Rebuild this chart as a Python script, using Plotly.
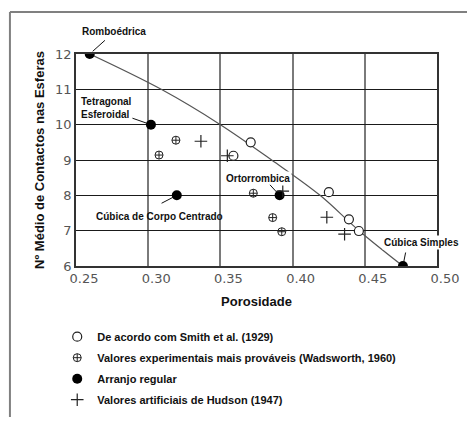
import plotly.graph_objects as go

# Porosity vs. mean number of contacts per sphere
smith_por = [0.359, 0.371, 0.4251, 0.439, 0.4459]
smith_n = [9.12, 9.50, 8.09, 7.32, 6.99]

wads_por = [0.3075, 0.3192, 0.3728, 0.3862, 0.3925]
wads_n = [9.14, 9.56, 8.06, 7.37, 6.97]

regular_names = ["Romboédrica", "Tetragonal<br>Esferoidal", "Cúbica de Corpo Centrado",
                 "Ortorrombica", "Cúbica Simples"]
regular_por = [0.2595, 0.3019, 0.3198, 0.391, 0.4764]
regular_n = [12, 10, 8, 8, 6]

hudson_por = [0.3365, 0.3548, 0.3932, 0.4237, 0.436]
hudson_n = [9.53, 9.12, 8.12, 7.38, 6.90]

curve_por = [0.2595, 0.309, 0.350, 0.3855, 0.419, 0.446, 0.4764]
curve_n = [12, 11, 10, 9, 8, 7, 6]

x_ticks = [0.25, 0.30, 0.35, 0.40, 0.45, 0.50]
x_ticktext = ["0.25", "0.30", "0.35", "0.40", "0.45", "0.50"]
y_ticks = [6, 7, 8, 9, 10, 11, 12]

BOLD = dict(family="Liberation Sans, Arial, sans-serif", weight="bold", color="#111")
DARK = "#222"

fig = go.Figure()

fig.add_trace(go.Scatter(
    x=curve_por, y=curve_n, mode="lines", line=dict(color="#555", width=1.2, shape="spline"),
    showlegend=False, hoverinfo="skip"))

fig.add_trace(go.Scatter(
    x=smith_por, y=smith_n, mode="markers", name="De acordo com Smith et al. (1929)",
    legendgroup="a",
    marker=dict(symbol="circle", size=9, color="white", line=dict(color=DARK, width=1.2))))

fig.add_trace(go.Scatter(
    x=wads_por, y=wads_n, mode="markers",
    name="Valores experimentais mais prováveis (Wadsworth, 1960)", legendgroup="b",
    marker=dict(symbol="circle-cross-open", size=8, color=DARK, line=dict(width=1))))

fig.add_trace(go.Scatter(
    x=regular_por, y=regular_n, mode="markers", name="Arranjo regular", legendgroup="c",
    marker=dict(symbol="circle", size=10, color="black")))

fig.add_trace(go.Scatter(
    x=hudson_por, y=hudson_n, mode="markers", name="Valores artificiais de Hudson (1947)",
    legendgroup="d",
    marker=dict(symbol="cross-thin-open", size=9, color=DARK, line=dict(width=1.2))))

# label offsets (text centre, pixels) and leader tails (pixels, y down) for the regular packings
label_shift = [(24, 22.5), (-44.5, 17), (-17.7, -21), (-21.3, 16.5), (19, 24)]
leader_tail = [(16.7, -15), (-20, -7), (-16.7, 8.7), (-11, -12), (3, -15)]
label_bg = [None, None, None, "white", "white"]
label_align = ["center", "left", "center", "center", "center"]

for name, px, n, (sx, sy), (tx, ty), bg, al in zip(
        regular_names, regular_por, regular_n, label_shift, leader_tail, label_bg, label_align):
    fig.add_annotation(x=px, y=n, xref="x", yref="y", text=name, showarrow=False,
                       xshift=sx, yshift=sy, align=al, bgcolor=bg,
                       font=dict(BOLD, size=10), borderpad=1)
    fig.add_annotation(x=px, y=n, xref="x", yref="y", text="", showarrow=True,
                       ax=tx, ay=ty, arrowhead=0, arrowwidth=1, arrowcolor="#111",
                       standoff=4)

# outer frame (left and top edges)
fig.add_shape(type="line", xref="paper", yref="paper", x0=-0.183, x1=-0.183, y0=-0.712, y1=1.198,
              line=dict(color="#808080", width=2))
fig.add_shape(type="line", xref="paper", yref="paper", x0=-0.183, x1=1.1, y0=1.198, y1=1.198,
              line=dict(color="#808080", width=2))

fig.update_xaxes(
    range=[0.25, 0.50], tickvals=x_ticks, ticktext=x_ticktext, ticks="",
    showgrid=True, gridcolor="#7a7a7a", gridwidth=2, zeroline=False,
    showline=True, linecolor="#333", linewidth=1.5, mirror=True,
    tickfont=dict(family="DejaVu Sans", size=13, color="#555"), ticklabelshift=8,
    title=dict(text="Porosidade", font=dict(BOLD, size=13), standoff=12))

fig.update_yaxes(
    range=[6, 12], tickvals=y_ticks, ticks="",
    showgrid=True, gridcolor="#1a1a1a", gridwidth=1.3, zeroline=False,
    showline=True, linecolor="#333", linewidth=1.5, mirror=True,
    tickfont=dict(family="DejaVu Sans", size=13, color="#555"),
    title=dict(text="Nº Médio de Contactos nas Esferas", font=dict(BOLD, size=13), standoff=8))

fig.update_layout(
    width=467, height=421, margin=dict(l=76, r=30, t=54, b=155, autoexpand=False),
    plot_bgcolor="white", paper_bgcolor="white",
    legend=dict(x=-0.052, xanchor="left", y=-0.265, yanchor="top",
                font=dict(BOLD, size=11), tracegroupgap=2, bgcolor="rgba(0,0,0,0)"),
)

fig.write_html("out.html")
